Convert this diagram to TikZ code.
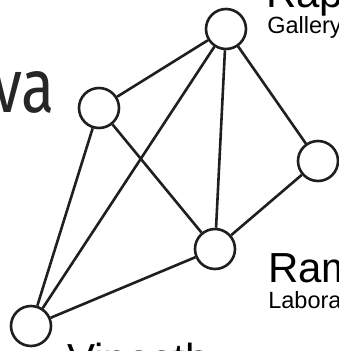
\documentclass[tikz,border=0pt]{standalone}
\usepackage{fontspec}
\setmainfont{Liberation Sans}
\newfontfamily\humanfont{Fira Sans}
\usepackage{tikz}
\usetikzlibrary{positioning}
\newcommand{\bigname}{\fontsize{42}{42}\selectfont}
\newcommand{\smallname}{\fontsize{23.5}{23.5}\selectfont}

\begin{document}
\begin{tikzpicture}[x=1pt,y=-1pt, line width=2.6pt,
  vx/.style={draw=black!88,circle,fill=white,minimum size=40pt,inner sep=0pt},
  nm/.style={inner sep=0pt,anchor=base west,text=black}]
  \useasboundingbox[fill=white] (0,0) rectangle (339,351);
  \node[vx] (rap) at (226,29) {};
  \node[vx] (va) at (99,108) {};
  \node[vx] (rt) at (318,161) {};
  \node[vx] (ram) at (215,249) {};
  \node[vx] (vl) at (31,326) {};
  \node[nm] (raptxt) at (265,7) {\bigname Rap};
  \node[nm] (gal) at (266,33) {\smallname Gallery};
  \node[nm] (ramtxt) at (267,282) {\bigname Ram};
  \node[nm] (lab) at (267,308) {\smallname Labora};
  \node[nm] (vltxt) at (66,373) {\bigname Vineeth};
  \node[nm,anchor=base east,xscale=0.8,text=black!85] (vatxt) at (56,112) {\humanfont\fontsize{76}{76}\selectfont va};
  \draw[black!88] (va)--(rap); \draw[black!88] (rap)--(rt); \draw[black!88] (rap)--(ram); \draw[black!88] (rap)--(vl);
  \draw[black!88] (va)--(ram); \draw[black!88] (va)--(vl); \draw[black!88] (rt)--(ram); \draw[black!88] (ram)--(vl);
\end{tikzpicture}
\end{document}
